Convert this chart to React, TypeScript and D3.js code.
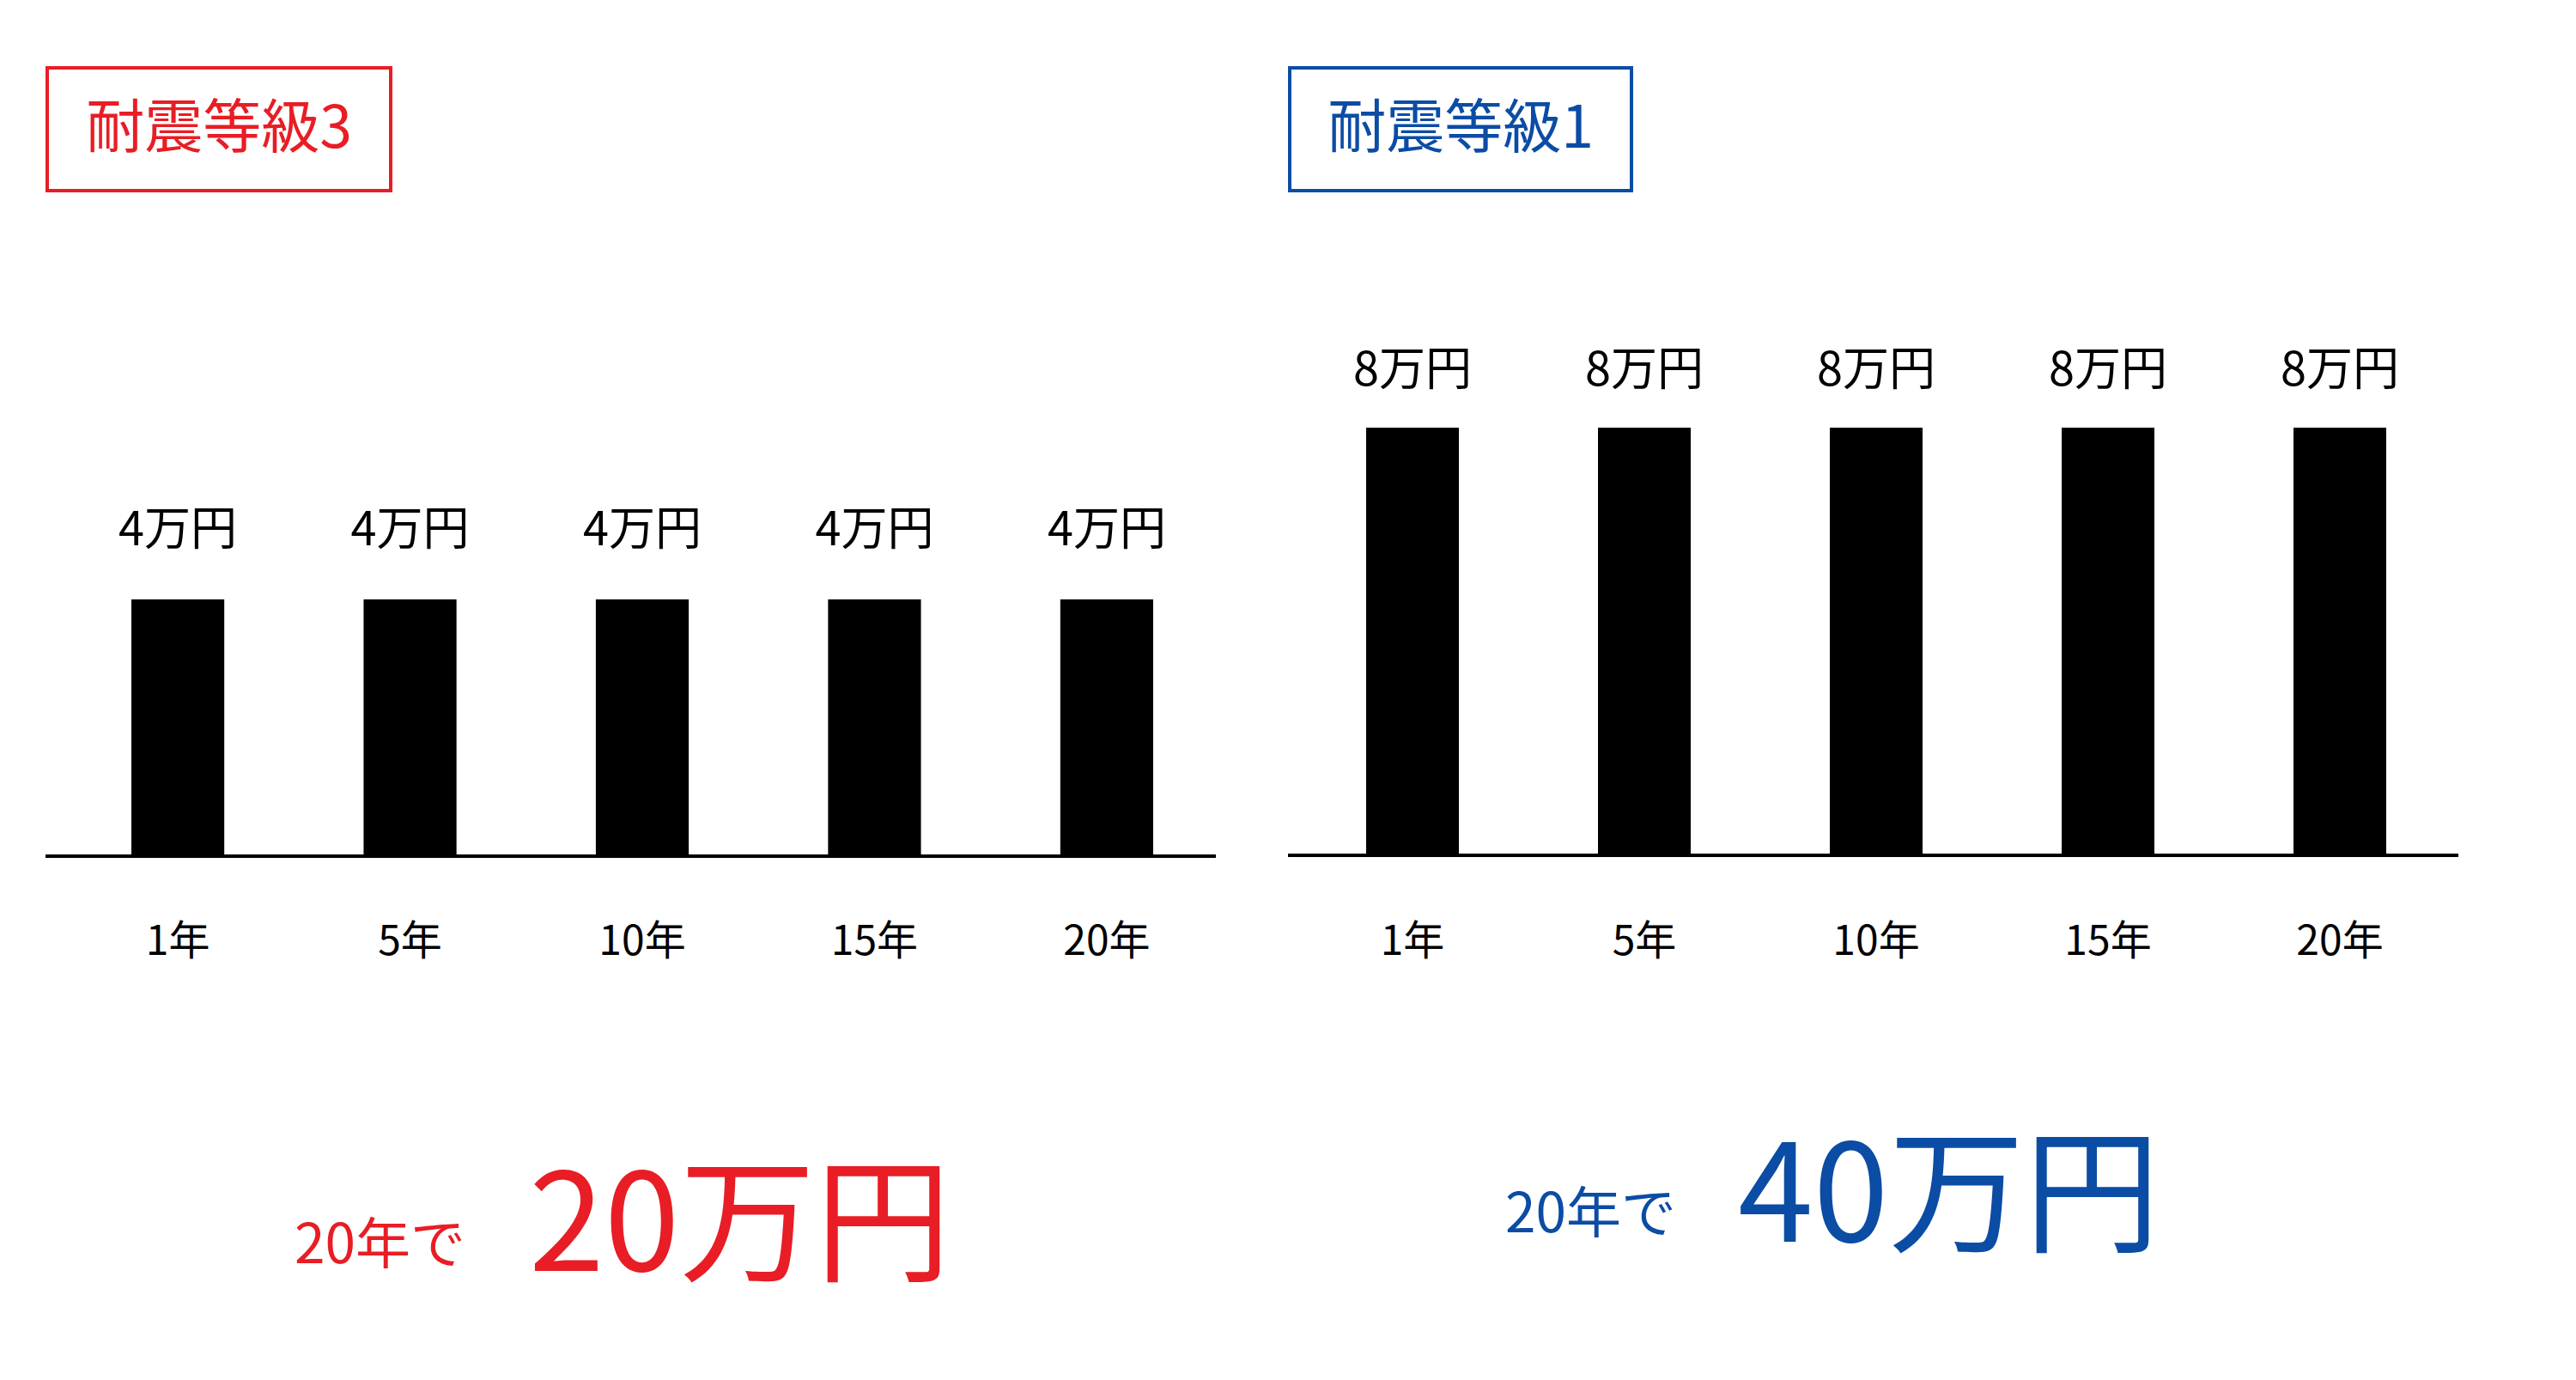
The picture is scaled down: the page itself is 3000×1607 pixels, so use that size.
import { useEffect, useRef } from "react";
import { select, scaleBand, scaleLinear, max } from "d3";

// データ
const years = ["1年", "5年", "10年", "15年", "20年"];
const grade3Values = [4, 4, 4, 4, 4];
const grade1Values = [8, 8, 8, 8, 8];
const grade3Title = "耐震等級3";
const grade1Title = "耐震等級1";
const grade3Total = "20万円";
const grade1Total = "40万円";
const totalPrefix = "20年で";

const W = 3000;
const H = 1607;
const FONT = "'Noto Sans CJK JP', 'Noto Sans', sans-serif";
const RED = "#e81d25";
const BLUE = "#0b4ca5";

type Panel = {
  title: string;
  values: number[];
  color: string;
  total: string;
  box: [number, number, number, number]; // x, y, w, h
  axisX: [number, number];
  baseY: number;
  topY: number; // 最大値の位置
  barX: [number, number]; // 最初の棒の左端〜最後の棒の右端
  labelGap: number;
  prefixPos: [number, number];
  totalPos: [number, number];
};

const panels: Panel[] = [
  {
    title: grade3Title,
    values: grade3Values,
    color: RED,
    total: grade3Total,
    box: [55, 79, 400, 143],
    axisX: [53, 1416],
    baseY: 997,
    topY: 698,
    barX: [153, 1343],
    labelGap: 63,
    prefixPos: [343, 1471],
    totalPos: [616, 1480],
  },
  {
    title: grade1Title,
    values: grade1Values,
    color: BLUE,
    total: grade1Total,
    box: [1502, 79, 398, 143],
    axisX: [1500, 2863],
    baseY: 996,
    topY: 498,
    barX: [1591, 2779],
    labelGap: 49,
    prefixPos: [1753, 1435],
    totalPos: [2024, 1446],
  },
];

const drawChart = (el: SVGSVGElement) => {
  const svg = select(el);
  svg.selectAll("*").remove();

  panels.forEach((p) => {
    const g = svg.append("g");

    // タイトル枠
    g.append("rect")
      .attr("x", p.box[0])
      .attr("y", p.box[1])
      .attr("width", p.box[2])
      .attr("height", p.box[3])
      .attr("fill", "none")
      .attr("stroke", p.color)
      .attr("stroke-width", 4);
    g.append("text")
      .text(p.title)
      .attr("x", p.box[0] + p.box[2] / 2)
      .attr("y", 172)
      .attr("text-anchor", "middle")
      .attr("font-family", FONT)
      .attr("font-size", 68)
      .attr("fill", p.color);

    // スケール
    const x = scaleBand(years, p.barX).paddingInner(0.6).paddingOuter(0);
    const y = scaleLinear([0, max(p.values) as number], [p.baseY, p.topY]);

    // 棒
    g.selectAll("rect.bar")
      .data(p.values)
      .enter()
      .append("rect")
      .attr("class", "bar")
      .attr("x", (d, i) => x(years[i]) as number)
      .attr("y", (d) => y(d))
      .attr("width", x.bandwidth())
      .attr("height", (d) => y(0) - y(d))
      .attr("fill", "#000");

    // 軸線
    g.append("line")
      .attr("x1", p.axisX[0])
      .attr("x2", p.axisX[1])
      .attr("y1", y(0))
      .attr("y2", y(0))
      .attr("stroke", "#000")
      .attr("stroke-width", 4);

    // 値ラベル
    g.selectAll("text.val")
      .data(p.values)
      .enter()
      .append("text")
      .attr("class", "val")
      .text((d) => `${d}万円`)
      .attr("x", (d, i) => (x(years[i]) as number) + x.bandwidth() / 2)
      .attr("y", (d) => y(d) - p.labelGap)
      .attr("text-anchor", "middle")
      .attr("font-family", FONT)
      .attr("font-size", 54)
      .attr("fill", "#000");

    // 年ラベル
    g.selectAll("text.cat")
      .data(years)
      .enter()
      .append("text")
      .attr("class", "cat")
      .text((d) => d)
      .attr("x", (d) => (x(d) as number) + x.bandwidth() / 2)
      .attr("y", 1112)
      .attr("text-anchor", "middle")
      .attr("font-family", FONT)
      .attr("font-size", 48)
      .attr("fill", "#000");

    // 合計
    g.append("text")
      .text(totalPrefix)
      .attr("x", p.prefixPos[0])
      .attr("y", p.prefixPos[1])
      .attr("font-family", FONT)
      .attr("font-size", 64)
      .attr("fill", p.color);
    g.append("text")
      .text(p.total)
      .attr("x", p.totalPos[0])
      .attr("y", p.totalPos[1])
      .attr("font-family", FONT)
      .attr("font-size", 158)
      .attr("font-weight", 400)
      .attr("fill", p.color);
  });
};

const App = () => {
  const ref = useRef<SVGSVGElement>(null);
  useEffect(() => {
    if (ref.current) drawChart(ref.current);
  }, []);
  return (
    <div style={{ position: "absolute", left: 0, top: 0, background: "#fff" }}>
      <svg ref={ref} width={W} height={H} style={{ display: "block" }} />
    </div>
  );
};

export default App;
